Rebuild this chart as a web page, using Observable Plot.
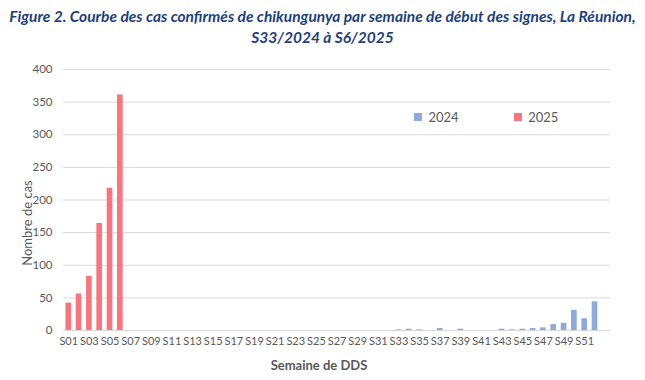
<!DOCTYPE html>
<html><head><meta charset="utf-8">
<script src="https://cdn.jsdelivr.net/npm/d3@7"></script>
<script src="https://cdn.jsdelivr.net/npm/@observablehq/plot@0.6"></script>
<style>
body{margin:0;background:#fff;font-family:Lato,sans-serif;}
#wrap{position:relative;width:645px;height:380px;overflow:hidden;}
#title{height:50px;text-align:center;color:#1f3f7a;font-weight:bold;font-style:italic;font-size:15.5px;line-height:21px;padding-top:6px;box-sizing:border-box;white-space:nowrap;}
#legend{position:absolute;left:414px;top:100px;}
#legend [class$="-swatch"]{margin-right:55px;}
</style></head><body>
<div id="wrap">
<div id="title">Figure 2. Courbe des cas confirmés de chikungunya par semaine de début des signes, La Réunion,<br>S33/2024 à S6/2025</div>
<div id="chart"></div>
<div id="legend"></div>
</div>
<script>
const weeks = ["S01","S02","S03","S04","S05","S06","S07","S08","S09","S10","S11","S12","S13","S14","S15","S16","S17","S18","S19","S20","S21","S22","S23","S24","S25","S26","S27","S28","S29","S30","S31","S32","S33","S34","S35","S36","S37","S38","S39","S40","S41","S42","S43","S44","S45","S46","S47","S48","S49","S50","S51","S52"];
const tickLabels = ["S01","S03","S05","S07","S09","S11","S13","S15","S17","S19","S21","S23","S25","S27","S29","S31","S33","S35","S37","S39","S41","S43","S45","S47","S49","S51"];
const years = ["2024","2025"];
const weeks2024 = ["S33","S34","S35","S36","S37","S38","S39","S40","S41","S42","S43","S44","S45","S46","S47","S48","S49","S50","S51","S52"];
const cases2024 = [1,2,1,0,3,0,2,0,0,0,2,1,2,3,4,9,11,31,18,44];
const weeks2025 = ["S01","S02","S03","S04","S05","S06"];
const cases2025 = [42,56,83,164,218,361];
const yTicks = [0,50,100,150,200,250,300,350,400];
const colors = ["#8eaadb","#f4777f"];

const rows = [
  ...weeks2024.map((w,i)=>({week:w, cases:cases2024[i], year:"2024"})),
  ...weeks2025.map((w,i)=>({week:w, cases:cases2025[i], year:"2025"}))
];

const chart = Plot.plot({
  width:645, height:330, marginTop:19, marginBottom:50, marginLeft:63, marginRight:35,
  style:{fontFamily:"Lato, sans-serif", fontSize:"11px", color:"#595959", background:"#fff"},
  x:{type:"band", domain:weeks, paddingInner:0.45, paddingOuter:0.73, align:0.16, round:false, label:null},
  y:{domain:[0,400], label:null},
  color:{domain:years, range:colors},
  marks:[
    Plot.gridY(yTicks, {stroke:"#d9d9d9", strokeOpacity:1}),
    Plot.axisY(yTicks, {tickSize:0, tickPadding:11, label:null, fontSize:11.5}),
    Plot.axisX(tickLabels, {tickSize:0, tickPadding:7, label:null}),
    Plot.barY(rows, {x:"week", y:"cases", fill:"year"}),
    Plot.text(["Nombre de cas"], {text:d=>d, frameAnchor:"left", textAnchor:"middle", lineAnchor:"middle", rotate:-90, dx:-36, dy:23, fontSize:13, fill:"#595959"}),
    Plot.text(["Semaine de DDS"], {text:d=>d, frameAnchor:"bottom", textAnchor:"middle", lineAnchor:"middle", dx:-18, dy:35, fontSize:13, fontWeight:"bold", fill:"#595959"})
  ]
});
document.getElementById("chart").appendChild(chart);

const legend = Plot.legend({color:{domain:years, range:colors}, swatchSize:8, style:{fontFamily:"Lato, sans-serif", fontSize:"13px", color:"#595959"}});
document.getElementById("legend").appendChild(legend);
</script>
</body></html>
